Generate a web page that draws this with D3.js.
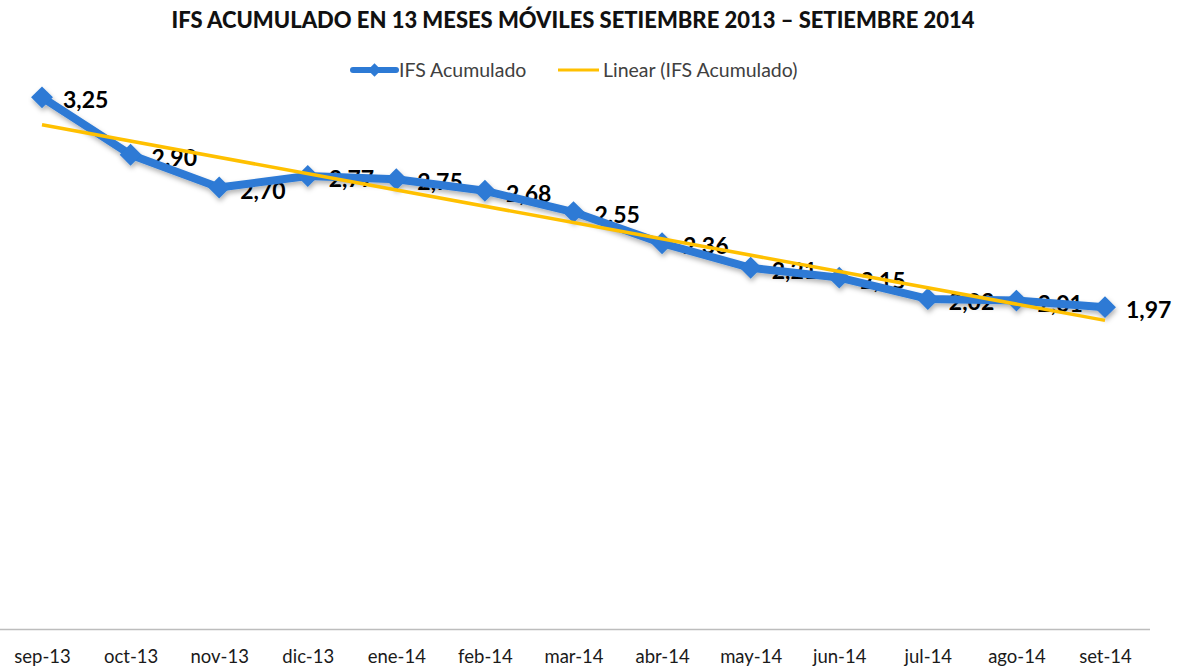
<!DOCTYPE html>
<html>
<head>
<meta charset="utf-8">
<script src="https://cdn.jsdelivr.net/npm/d3@7"></script>
<style>
  body { margin: 0; background: #fff; }
  svg { display: block; font-family: Lato, "Open Sans", sans-serif; }
</style>
</head>
<body>
<svg id="chart" width="1182" height="668"></svg>
<script>
// data
var months = ["sep-13", "oct-13", "nov-13", "dic-13", "ene-14", "feb-14", "mar-14",
              "abr-14", "may-14", "jun-14", "jul-14", "ago-14", "set-14"];
var ifsValues = [3.25, 2.90, 2.70, 2.77, 2.75, 2.68, 2.55, 2.36, 2.21, 2.15, 2.02, 2.01, 1.97];
var yDomain = [0, 3.5];

var svg = d3.select("#chart");
var blue = "#2d7ad5", yellow = "#ffc000";

var x = d3.scalePoint().domain(months).range([42, 1105]);
var y = d3.scaleLinear().domain(yDomain).range([630, 56.4]);

// soft shadow under the series line
var defs = svg.append("defs");
var f = defs.append("filter").attr("id", "shadow").attr("x", "-10%").attr("y", "-10%").attr("width", "120%").attr("height", "130%");
f.append("feDropShadow").attr("dx", 1).attr("dy", 3).attr("stdDeviation", 2.5)
  .attr("flood-color", "#000").attr("flood-opacity", 0.3);

// title
svg.append("text").attr("x", 573).attr("y", 28).attr("text-anchor", "middle")
  .attr("font-size", "22px").attr("font-weight", "900").attr("fill", "#111")
  .attr("textLength", 803).attr("lengthAdjust", "spacingAndGlyphs")
  .text("IFS ACUMULADO EN 13 MESES MÓVILES SETIEMBRE 2013 – SETIEMBRE 2014");

// legend
var leg = svg.append("g").attr("font-size", "19.5px").attr("fill", "#404040");
leg.append("line").attr("x1", 353).attr("x2", 396).attr("y1", 70).attr("y2", 70)
  .attr("stroke", blue).attr("stroke-width", 6).attr("stroke-linecap", "round");
leg.append("path").attr("d", d3.symbol(d3.symbolSquare, 90)()).attr("transform", "translate(374.5,70) rotate(45)").attr("fill", blue);
leg.append("text").attr("x", 399).attr("y", 77).text("IFS Acumulado");
leg.append("line").attr("x1", 558).attr("x2", 599).attr("y1", 70).attr("y2", 70)
  .attr("stroke", yellow).attr("stroke-width", 3);
leg.append("text").attr("x", 603).attr("y", 77).text("Linear (IFS Acumulado)");

// axis
svg.append("line").attr("x1", 0).attr("x2", 1150).attr("y1", 629.5).attr("y2", 629.5)
  .attr("stroke", "#bdbdbd").attr("stroke-width", 1.5);
var axis = svg.append("g").attr("transform", "translate(0,650)")
  .call(d3.axisBottom(x).tickSize(0).tickPadding(0));
axis.select(".domain").remove();
axis.selectAll("text").attr("font-family", "Lato, 'Open Sans', sans-serif")
  .attr("font-size", "18.5px").attr("fill", "#1a1a1a").attr("dy", "0.71em");

// data labels (drawn below the lines, as in the reference)
svg.append("g").selectAll("text").data(ifsValues).join("text")
  .attr("x", function(d, i){ return x(months[i]) + 21; })
  .attr("y", function(d){ return y(d) + 11; })
  .attr("font-size", "23px").attr("font-weight", "bold").attr("fill", "#000")
  .text(function(d){ return d.toFixed(2).replace(".", ","); });

// series line with diamond markers
var line = d3.line().x(function(d, i){ return x(months[i]); }).y(function(d){ return y(d); });
var series = svg.append("g").attr("filter", "url(#shadow)");
series.append("path").datum(ifsValues).attr("d", line)
  .attr("fill", "none").attr("stroke", blue).attr("stroke-width", 8).attr("stroke-linejoin", "round");
series.selectAll(".pt").data(ifsValues).join("path").attr("class", "pt")
  .attr("d", d3.symbol(d3.symbolSquare, 240)())
  .attr("transform", function(d, i){ return "translate(" + x(months[i]) + "," + y(d) + ") rotate(45)"; })
  .attr("fill", blue);

// linear trend (least squares over the series)
var n = ifsValues.length;
var mx = d3.mean(d3.range(n)), my = d3.mean(ifsValues);
var slope = d3.sum(ifsValues, function(v, i){ return (i - mx) * (v - my); }) /
            d3.sum(d3.range(n), function(i){ return (i - mx) * (i - mx); });
var trend = [0, n - 1].map(function(i){ return { i: i, v: my + slope * (i - mx) }; });
svg.append("path").datum(trend)
  .attr("d", d3.line().x(function(d){ return x(months[d.i]); }).y(function(d){ return y(d.v); }))
  .attr("stroke", yellow).attr("stroke-width", 3.5).attr("fill", "none");
</script>
</body>
</html>
